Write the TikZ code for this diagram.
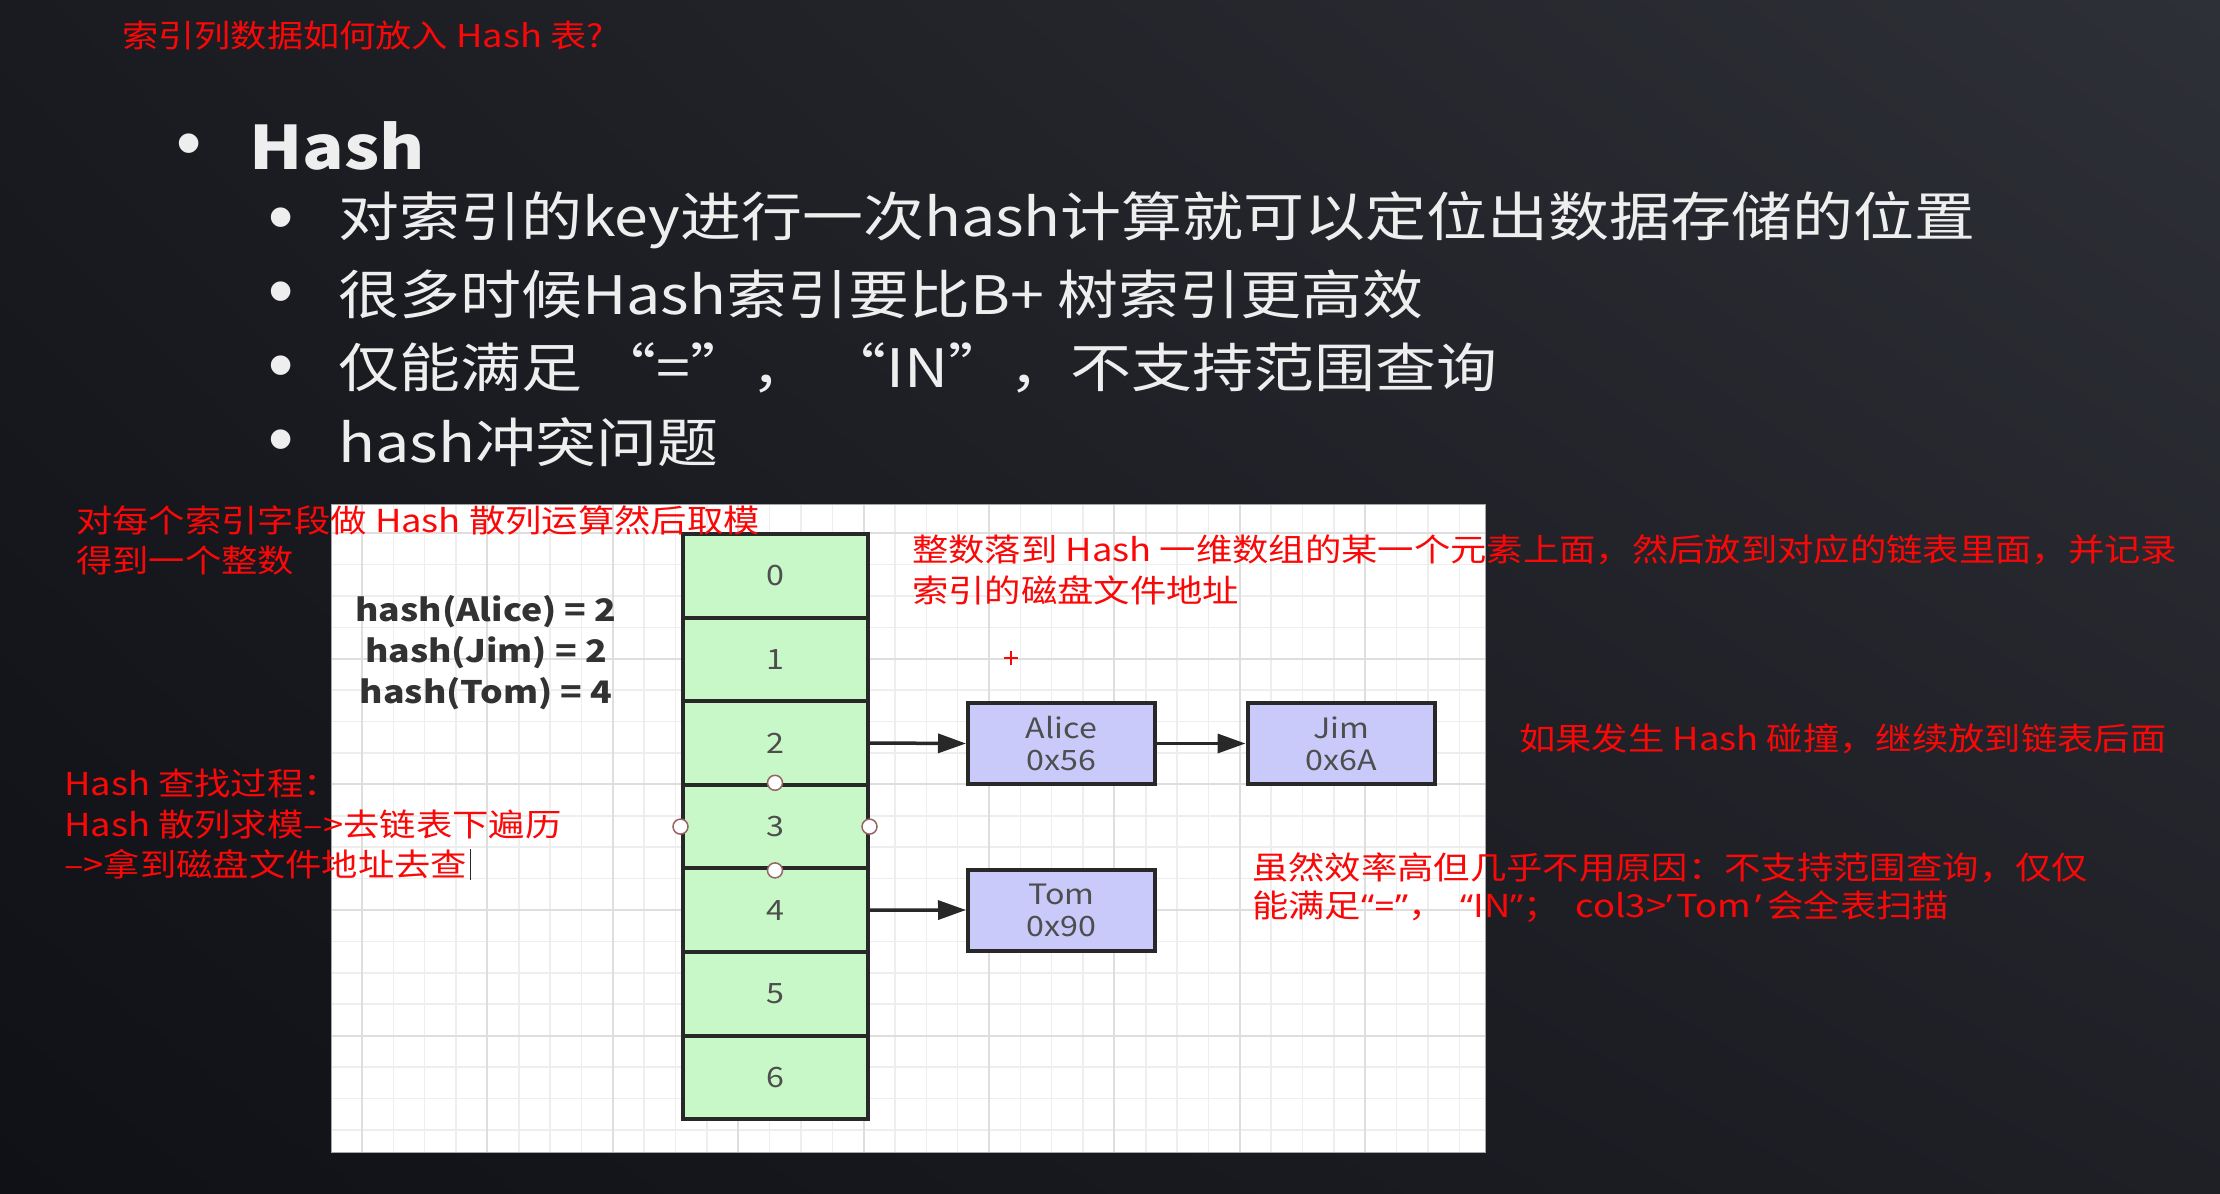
\documentclass[tikz,border=0pt]{standalone}
\usepackage{fontspec}
\setmainfont{Noto Sans CJK SC}[FakeStretch=1.15]
\newfontfamily\quotefont{Noto Sans}[FakeStretch=1.15]
\newfontfamily\dotfont{Liberation Sans}
\usetikzlibrary{arrows.meta,shadings}

\definecolor{bgUL}{RGB}{26,27,32}
\definecolor{bgUR}{RGB}{46,48,55}
\definecolor{bgLL}{RGB}{16,17,23}
\definecolor{bgLR}{RGB}{31,32,38}
\definecolor{notered}{RGB}{250,8,8}
\definecolor{slidetext}{RGB}{238,238,238}
\definecolor{cellgreen}{RGB}{200,247,200}
\definecolor{nodeblue}{RGB}{202,202,250}
\definecolor{ink}{RGB}{40,40,40}
\definecolor{labelgray}{RGB}{78,78,78}
\definecolor{hashtext}{RGB}{50,50,50}
\definecolor{gridminor}{RGB}{238,238,238}
\definecolor{gridmajor}{RGB}{222,222,222}
\definecolor{handleedge}{RGB}{150,100,100}

\begin{document}
\begin{tikzpicture}[x=1pt,y=-1pt,
  note/.style={text=notered, anchor=west, inner sep=0pt, font=\fontsize{31.6}{38}\selectfont},
  slide/.style={text=slidetext, anchor=west, inner sep=0pt, font=\fontsize{53}{64}\selectfont},
  bulletdot/.style={text=slidetext, inner sep=0pt, font=\dotfont\fontsize{72}{76}\selectfont},
  cell/.style={draw=ink, line width=4pt, fill=cellgreen, minimum width=185pt,
    minimum height=83.6pt, inner sep=0pt, text=labelgray, font=\fontsize{28}{32}\selectfont},
  entry/.style={draw=ink, line width=4pt, fill=nodeblue, minimum width=187pt,
    minimum height=81pt, inner sep=0pt, text=labelgray, align=center,
    font=\fontsize{28}{32}\selectfont},
  handle/.style={circle, draw=handleedge, line width=1.5pt, fill=white,
    minimum size=15pt, inner sep=0pt},
  link/.style={draw=ink, line width=3.5pt, -{Triangle[length=28pt,width=19pt]}},
  hashline/.style={text=hashtext, inner sep=0pt, font=\bfseries\fontsize{31}{36}\selectfont}
]
\useasboundingbox (0,0) rectangle (2220,1194);

% slide background
\shade[upper left=bgUL, upper right=bgUR, lower left=bgLL, lower right=bgLR]
  (0,0) rectangle (2220,1194);

% slide bullets
\node[note, font=\fontsize{31.5}{38}\selectfont] (title) at (122,36) {索引列数据如何放入 Hash 表?};
\node[bulletdot] (b0) at (189,151) {•};
\node[slide, font=\bfseries\fontsize{60}{70}\selectfont] (head) at (249,146) {Hash};
\node[bulletdot] (b1) at (281,225) {•};
\node[slide] (s1) at (338,220) {对索引的key进行一次hash计算就可以定位出数据存储的位置};
\node[bulletdot] (b2) at (281,299) {•};
\node[slide] (s2) at (338,294) {很多时候Hash索引要比B+ 树索引更高效};
\node[bulletdot] (b3) at (281,373) {•};
\node[slide] (s3) at (338,368) {仅能满足 “=”， “IN”，不支持范围查询};
\node[bulletdot] (b4) at (281,447) {•};
\node[slide] (s4) at (338,442) {hash冲突问题};

% diagram canvas with grid
\fill[white] (331,504) rectangle (1485,1152);
\foreach \k in {0,...,35}
  \draw[gridminor, line width=1.5pt] ({362+31.35*\k},504) -- ({362+31.35*\k},1152);
\foreach \k in {0,...,19}
  \draw[gridminor, line width=1.5pt] (331,{533.2+31.4*\k}) -- (1485,{533.2+31.4*\k});
\foreach \k in {0,...,8}
  \draw[gridmajor, line width=2pt] ({362+125.4*\k},504) -- ({362+125.4*\k},1152);
\foreach \k in {0,...,4}
  \draw[gridmajor, line width=2pt] (331,{533.2+125.6*\k}) -- (1485,{533.2+125.6*\k});
\draw[gray!70, line width=1pt] (331,504) rectangle (1485,1152);

% hash values
\node[hashline] (h1) at (486,612) {hash(Alice) = 2};
\node[hashline] (h2) at (486,653) {hash(Jim) = 2};
\node[hashline] (h3) at (486,694) {hash(Tom) = 4};

% bucket array
\foreach \i in {0,...,6}
  \node[cell] (c\i) at (775,{575.8+83.6*\i}) {\i};

% selection handles on bucket 3
\node[handle] (hn) at (c3.north) {};
\node[handle] (hs) at (c3.south) {};
\node[handle] (hw) at (c3.west) {};
\node[handle] (he) at (c3.east) {};

% chained entries
\node[entry] (alice) at (1061.5,743.5) {Alice\\0x56};
\node[entry] (jim) at (1341,743.5) {Jim\\0x6A};
\node[entry] (tom) at (1061.5,910) {Tom\\0x90};

\draw[link] (c2.east) -- (alice.west);
\draw[link] (alice.east) -- (jim.west);
\draw[link] (c4.east) -- (tom.west);

% small red cross marker
\draw[notered, line width=2pt] (1004,658) -- (1018,658) (1011,651) -- (1011,665);

% red annotations
\node[note] (n1a) at (76,520) {对每个索引字段做 Hash 散列运算然后取模};
\node[note] (n1b) at (76,561) {得到一个整数};
\node[note] (n2a) at (912,550) {整数落到 Hash 一维数组的某一个元素上面，然后放到对应的链表里面，并记录};
\node[note] (n2b) at (912,590) {索引的磁盘文件地址};
\node[note] (n3) at (1519,739) {如果发生 Hash 碰撞，继续放到链表后面};
\node[note] (n4a) at (1252,868) {虽然效率高但几乎不用原因：不支持范围查询，仅仅};
\node[note] (n4b) at (1252,907) {能满足{\quotefont“=”}，\hspace{16pt}{\quotefont“}IN{\quotefont”}；\hspace{16pt}col3>{\quotefont’}\hspace{4pt}Tom\hspace{4pt}{\quotefont’}\hspace{6pt}会全表扫描};
\node[note] (n5a) at (64,783) {Hash 查找过程：};
\node[note] (n5b) at (64,825) {Hash 散列求模-->去链表下遍历};
\node[note] (n5c) at (64,864) {-->拿到磁盘文件地址去查};
\draw[ink, line width=1.2pt] ([xshift=3pt]n5c.east |- 0,849) -- ([xshift=3pt]n5c.east |- 0,880);
\end{tikzpicture}
\end{document}
